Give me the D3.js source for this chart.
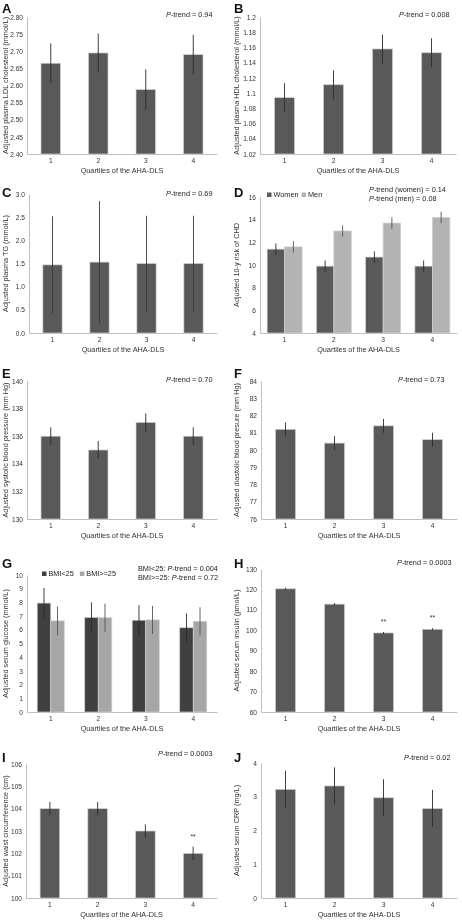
<!DOCTYPE html>
<html><head><meta charset="utf-8">
<script src="https://cdn.jsdelivr.net/npm/d3@7"></script>
<style>body{margin:0;background:#fff}svg{display:block;font-family:"Liberation Sans",Arial,sans-serif;will-change:transform}</style>
</head><body><svg id="c" width="462" height="921"></svg>
<script>
// ---------- data ----------
const quartiles = ["1", "2", "3", "4"];
const xTitle = "Quartiles of the AHA-DLS";

const ldlMean = [2.665, 2.695, 2.588, 2.69];
const ldlErr  = [0.058, 0.057, 0.059, 0.058];
const ldlTicks = [2.40, 2.45, 2.50, 2.55, 2.60, 2.65, 2.70, 2.75, 2.80];

const hdlMean = [1.094, 1.111, 1.158, 1.153];
const hdlErr  = [0.019, 0.019, 0.019, 0.019];
const hdlTicks = [1.02, 1.04, 1.06, 1.08, 1.10, 1.12, 1.14, 1.16, 1.18, 1.20];

const tgMean = [1.47, 1.53, 1.50, 1.50];
const tgErr  = [1.05, 1.32, 1.03, 1.03];
const tgTicks = [0, 0.5, 1.0, 1.5, 2.0, 2.5, 3.0];

const chdWomen = [11.4, 9.9, 10.7, 9.9];
const chdWomenErr = [0.5, 0.5, 0.5, 0.5];
const chdMen = [11.6, 13.0, 13.7, 14.2];
const chdMenErr = [0.5, 0.5, 0.5, 0.5];
const chdTicks = [4, 6, 8, 10, 12, 14, 16];

const sbpMean = [136, 135, 137, 136];
const sbpErr  = [0.65, 0.65, 0.65, 0.65];
const sbpTicks = [130, 132, 134, 136, 138, 140];

const dbpMean = [81.2, 80.4, 81.4, 80.6];
const dbpErr  = [0.4, 0.4, 0.4, 0.4];
const dbpTicks = [76, 77, 78, 79, 80, 81, 82, 83, 84];

const gluLow = [7.95, 6.9, 6.7, 6.15];
const gluLowErr = [1.1, 1.1, 1.1, 1.05];
const gluHigh = [6.65, 6.88, 6.72, 6.62];
const gluHighErr = [1.05, 1.03, 1.03, 1.03];
const gluTicks = [0, 1, 2, 3, 4, 5, 6, 7, 8, 9, 10];

const insMean = [120.3, 112.8, 98.7, 100.5];
const insErr  = [0.5, 0.5, 0.5, 0.5];
const insSig  = ["", "", "**", "**"];
const insTicks = [60, 70, 80, 90, 100, 110, 120, 130];

const waistMean = [104, 104, 103, 102];
const waistErr  = [0.3, 0.3, 0.3, 0.3];
const waistSig  = ["", "", "", "**"];
const waistTicks = [100, 101, 102, 103, 104, 105, 106];

const crpMean = [3.22, 3.32, 2.97, 2.65];
const crpErr  = [0.55, 0.55, 0.55, 0.55];
const crpTicks = [0, 1, 2, 3, 4];

// ---------- drawing ----------
const svg = d3.select("#c");
const DARK = "#595959", AXIS = "#bfbfbf", ERR = "#2b2b2b";
const fmtGen = v => String(+v.toFixed(2));

function panel(o) {
  const g = svg.append("g");
  const x = d3.scaleBand().domain(quartiles).range([o.x0, o.x1]).padding(0);
  const y = d3.scaleLinear().domain([o.ticks[0], o.ticks[o.ticks.length - 1]]).range([o.y1, o.y0]);

  const ya = g.append("g").attr("transform", `translate(${o.x0},0)`)
    .call(d3.axisLeft(y).tickValues(o.ticks).tickSize(0).tickPadding(4).tickFormat(o.fmt));
  ya.select(".domain").attr("stroke", AXIS);
  ya.selectAll("text").attr("font-size", 6.6).attr("fill", "#333");
  const xa = g.append("g").attr("transform", `translate(0,${o.y1})`)
    .call(d3.axisBottom(x).tickSize(0).tickPadding(4));
  xa.select(".domain").attr("stroke", AXIS);
  xa.selectAll("text").attr("font-size", 6.6).attr("fill", "#333");

  const n = o.series.length;
  const inner = d3.scaleBand().domain(d3.range(n)).range([0, x.bandwidth() * o.groupFrac]);
  const off = (x.bandwidth() - x.bandwidth() * o.groupFrac) / 2;
  o.series.forEach((s, si) => {
    const bars = g.append("g");
    quartiles.forEach((q, i) => {
      const bx = x(q) + off + inner(si);
      const bw = inner.bandwidth();
      bars.append("rect").attr("x", bx).attr("width", bw)
        .attr("y", y(s.v[i])).attr("height", o.y1 - y(s.v[i]))
        .attr("fill", s.color).attr("stroke", "#d0d0d0").attr("stroke-width", 0.7);
    });
    quartiles.forEach((q, i) => {
      const cx = x(q) + off + inner(si) + inner.bandwidth() / 2;
      bars.append("line").attr("x1", cx).attr("x2", cx)
        .attr("y1", y(Math.max(o.ticks[0], s.v[i] - s.e[i]))).attr("y2", y(s.v[i] + s.e[i]))
        .attr("stroke", s.errColor || ERR).attr("stroke-width", 0.9);
      if (s.sig && s.sig[i]) {
        bars.append("text").attr("x", cx).attr("y", y(s.v[i] + s.e[i]) - 8)
          .attr("text-anchor", "middle").attr("font-size", 7).attr("fill", "#333").text(s.sig[i]);
      }
    });
  });

  g.append("text").attr("x", (o.x0 + o.x1) / 2).attr("y", o.y1 + 19)
    .attr("text-anchor", "middle").attr("font-size", 7.3).attr("fill", "#333").text(xTitle);
  g.append("text").attr("transform", `translate(${o.ytx},${(o.y0 + o.y1) / 2}) rotate(-90)`)
    .attr("text-anchor", "middle").attr("font-size", 7.3).attr("fill", "#333").text(o.yTitle);
  g.append("text").attr("x", o.lx).attr("y", o.ly).attr("font-size", 13).attr("font-weight", "bold")
    .attr("fill", "#111").text(o.letter);

  o.ptext.forEach((t, k) => {
    const tx = g.append("text").attr("x", o.px).attr("y", o.py + k * 8.5).attr("font-size", 7.3).attr("fill", "#222");
    tx.append("tspan").text(t[0]);
    tx.append("tspan").attr("font-style", "italic").text("P");
    tx.append("tspan").text(t[1]);
  });

  if (o.legend) {
    let lx = o.legend.x;
    o.series.forEach((s, si) => {
      g.append("rect").attr("x", lx).attr("y", o.legend.y - 4.5).attr("width", 4.5).attr("height", 4.5).attr("fill", s.color);
      const t = g.append("text").attr("x", lx + 6.5).attr("y", o.legend.y).attr("font-size", 7.3).attr("fill", "#222").text(s.name);
      lx += 6.5 + t.node().getComputedTextLength() + o.legend.gap;
    });
  }
}

const LX = 2, RX = 234;
panel({letter: "A", lx: LX, ly: 13, x0: 27, x1: 217, y0: 17, y1: 154, ticks: ldlTicks, fmt: d3.format(".2f"),
  yTitle: "Adjusted plasma  LDL cholesterol (mmol/L)", ytx: 8, groupFrac: 0.41,
  series: [{v: ldlMean, e: ldlErr, color: DARK}], ptext: [["", "-trend = 0.94"]], px: 166, py: 17});
panel({letter: "B", lx: RX, ly: 13, x0: 260, x1: 456, y0: 17, y1: 154, ticks: hdlTicks, fmt: fmtGen,
  yTitle: "Adjusted plasma HDL cholesterol (mmol/L)", ytx: 239, groupFrac: 0.41,
  series: [{v: hdlMean, e: hdlErr, color: DARK}], ptext: [["", "-trend = 0.008"]], px: 399, py: 17});
panel({letter: "C", lx: LX, ly: 197, x0: 29, x1: 217, y0: 194, y1: 333, ticks: tgTicks, fmt: d3.format(".1f"),
  yTitle: "Adjusted plasma TG (mmol/L)", ytx: 8, groupFrac: 0.41,
  series: [{v: tgMean, e: tgErr, color: DARK, errColor: "#3a3a3a"}], ptext: [["", "-trend = 0.69"]], px: 166, py: 196});
panel({letter: "D", lx: RX, ly: 197, x0: 260, x1: 457, y0: 197, y1: 333, ticks: chdTicks, fmt: d3.format("d"),
  yTitle: "Adjusted 10-y risk of CHD", ytx: 239, groupFrac: 0.71,
  series: [{name: "Women", v: chdWomen, e: chdWomenErr, color: DARK},
           {name: "Men", v: chdMen, e: chdMenErr, color: "#b3b3b3", errColor: "#555"}],
  legend: {x: 267, y: 197, gap: 3},
  ptext: [["", "-trend (women) = 0.14"], ["", "-trend (men) = 0.08"]], px: 369, py: 192});
panel({letter: "E", lx: LX, ly: 378, x0: 27, x1: 217, y0: 381, y1: 519, ticks: sbpTicks, fmt: d3.format("d"),
  yTitle: "Adjusted systolic blood pressure  (mm Hg)", ytx: 8, groupFrac: 0.41,
  series: [{v: sbpMean, e: sbpErr, color: DARK}], ptext: [["", "-trend = 0.70"]], px: 166, py: 382});
panel({letter: "F", lx: RX, ly: 378, x0: 261, x1: 457, y0: 381, y1: 519, ticks: dbpTicks, fmt: d3.format("d"),
  yTitle: "Adjusted diastolic blood presure  (mm Hg)", ytx: 239, groupFrac: 0.41,
  series: [{v: dbpMean, e: dbpErr, color: DARK}], ptext: [["", "-trend = 0.73"]], px: 398, py: 382});
panel({letter: "G", lx: LX, ly: 568, x0: 27, x1: 217, y0: 575, y1: 712, ticks: gluTicks, fmt: d3.format("d"),
  yTitle: "Adjusted  serum glucose (mmol/L)", ytx: 8, groupFrac: 0.57,
  series: [{name: "BMI<25", v: gluLow, e: gluLowErr, color: "#404040"},
           {name: "BMI>=25", v: gluHigh, e: gluHighErr, color: "#a6a6a6", errColor: "#555"}],
  legend: {x: 42, y: 576, gap: 6},
  ptext: [["BMI<25: ", "-trend = 0.004"], ["BMI>=25: ", "-trend = 0.72"]], px: 138, py: 571});
panel({letter: "H", lx: RX, ly: 568, x0: 261, x1: 457, y0: 569, y1: 712, ticks: insTicks, fmt: d3.format("d"),
  yTitle: "Adjusted serum insulin (pmol/L)", ytx: 239, groupFrac: 0.41,
  series: [{v: insMean, e: insErr, color: DARK, sig: insSig}], ptext: [["", "-trend = 0.0003"]], px: 397, py: 565});
panel({letter: "I", lx: LX, ly: 762, x0: 26, x1: 217, y0: 764, y1: 898, ticks: waistTicks, fmt: d3.format("d"),
  yTitle: "Adjusted  waist circumference (cm)", ytx: 8, groupFrac: 0.41,
  series: [{v: waistMean, e: waistErr, color: DARK, sig: waistSig}], ptext: [["", "-trend = 0.0003"]], px: 158, py: 756});
panel({letter: "J", lx: RX, ly: 762, x0: 261, x1: 457, y0: 763, y1: 898, ticks: crpTicks, fmt: d3.format("d"),
  yTitle: "Adjusted serum CRP (mg/L)", ytx: 239, groupFrac: 0.41,
  series: [{v: crpMean, e: crpErr, color: DARK}], ptext: [["", "-trend = 0.02"]], px: 404, py: 760});
</script></body></html>
